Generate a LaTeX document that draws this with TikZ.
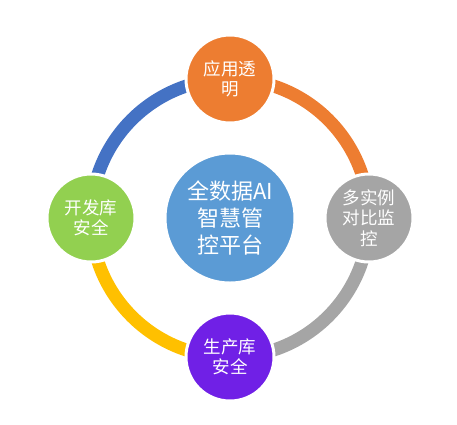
\documentclass[tikz,border=0pt]{standalone}
\usepackage{fontspec}
\newfontfamily\cjk{Noto Sans CJK SC}
\definecolor{ringblue}{HTML}{4472C4}
\definecolor{ringorange}{HTML}{ED7D31}
\definecolor{ringgray}{HTML}{A5A5A5}
\definecolor{ringyellow}{HTML}{FFC000}
\definecolor{hubblue}{HTML}{5B9BD5}
\definecolor{devgreen}{HTML}{92D050}
\definecolor{prodpurple}{HTML}{7020E6}
\begin{document}
\begin{tikzpicture}[x=1pt,y=-1pt,
    ring/.style={line width=13pt},
    hub/.style={circle, fill=hubblue, draw=white, line width=2pt,
        minimum size=129pt, inner sep=0pt, align=center, text=white,
        font=\cjk\fontsize{22}{27}\selectfont},
    sat/.style={circle, draw=white, line width=3pt, minimum size=88pt,
        inner sep=0pt, align=center, text=white,
        font=\cjk\fontsize{17.5}{20.5}\selectfont}]
    \useasboundingbox (0,0) rectangle (457,424);

    \coordinate (o) at (230,218);
    \coordinate (top) at (230,79);
    \coordinate (rgt) at (369,218);
    \coordinate (bot) at (230,357);
    \coordinate (lft) at (91,218);

    \draw[ring,ringblue] (lft) arc[start angle=180,end angle=270,radius=139];
    \draw[ring,ringorange] (top) arc[start angle=270,end angle=360,radius=139];
    \draw[ring,ringgray] (rgt) arc[start angle=0,end angle=90,radius=139];
    \draw[ring,ringyellow] (bot) arc[start angle=90,end angle=180,radius=139];

    \node[hub] (center) at (o) {全数据AI\\智慧管\\控平台};
    \node[sat,fill=ringorange] (app) at (top) {应用透\\明};
    \node[sat,fill=ringgray] (cmp) at (rgt) {多实例\\对比监\\控};
    \node[sat,fill=prodpurple] (prod) at (bot) {生产库\\安全};
    \node[sat,fill=devgreen] (dev) at (lft) {开发库\\安全};

\end{tikzpicture}
\end{document}
